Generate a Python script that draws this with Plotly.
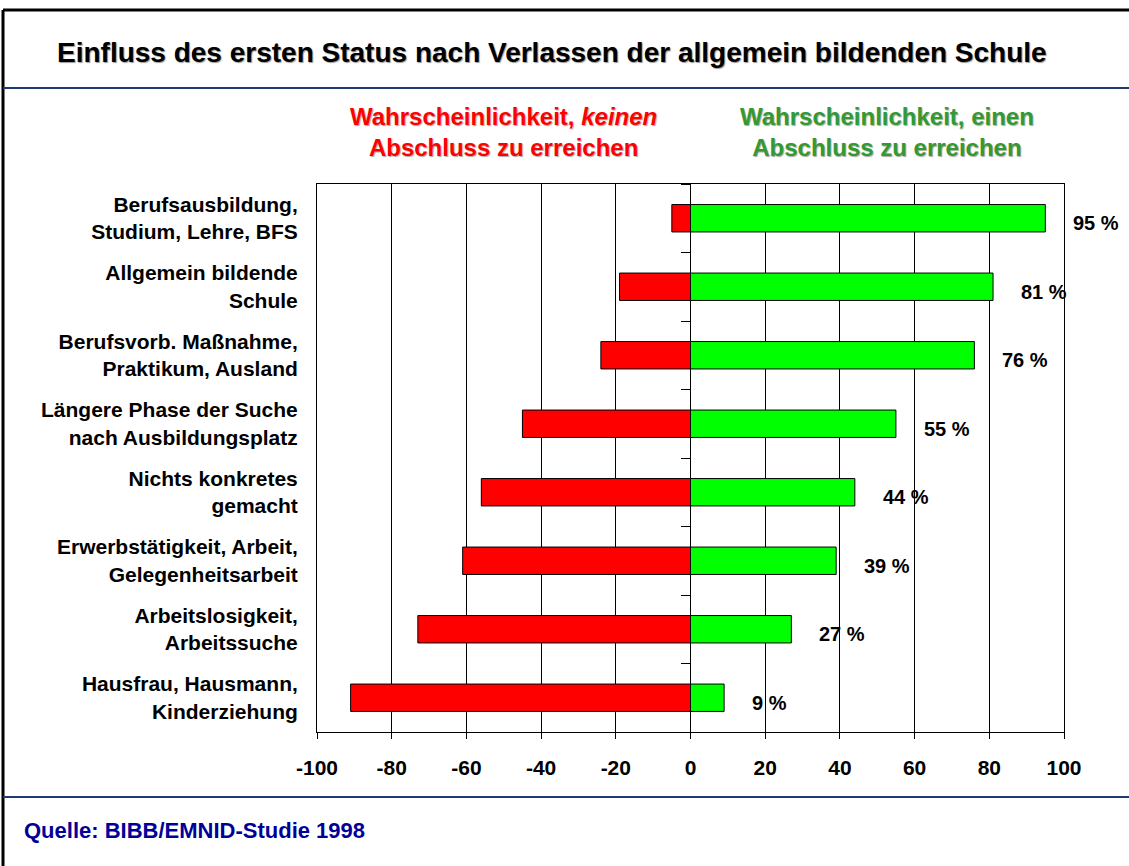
import plotly.graph_objects as go

categories = [
    "Berufsausbildung,<br>Studium, Lehre, BFS",
    "Allgemein bildende<br>Schule",
    "Berufsvorb. Maßnahme,<br>Praktikum, Ausland",
    "Längere Phase der Suche<br>nach Ausbildungsplatz",
    "Nichts konkretes<br>gemacht",
    "Erwerbstätigkeit, Arbeit,<br>Gelegenheitsarbeit",
    "Arbeitslosigkeit,<br>Arbeitssuche",
    "Hausfrau, Hausmann,<br>Kinderziehung",
]
kein_abschluss = [5, 19, 24, 45, 56, 61, 73, 91]
abschluss = [95, 81, 76, 55, 44, 39, 27, 9]
x_ticks = [-100, -80, -60, -40, -20, 0, 20, 40, 60, 80, 100]

FONT = "Liberation Sans, Arial, sans-serif"
idx = list(range(len(categories)))

PL, PR, PT, PB = 317, 1064, 184, 732
W, H = 1129, 866


def px_to_paper_x(px):
    return (px - PL) / (PR - PL)


def px_to_paper_y(py):
    return (PB - py) / (PB - PT)


fig = go.Figure()
fig.add_trace(go.Bar(
    y=idx, x=[-v for v in kein_abschluss], orientation="h",
    marker=dict(color="#FF0000", line=dict(color="black", width=1)),
    width=0.4, showlegend=False, hoverinfo="skip",
))
fig.add_trace(go.Bar(
    y=idx, x=abschluss, orientation="h",
    marker=dict(color="#00FF00", line=dict(color="black", width=1)),
    width=0.4, showlegend=False, hoverinfo="skip",
))
# invisible trace to anchor the category-axis ticks at zero
fig.add_trace(go.Scatter(
    x=[0], y=[0], yaxis="y2", mode="markers",
    marker=dict(opacity=0), showlegend=False, hoverinfo="skip",
))

annotations = []
for i, v in enumerate(abschluss):
    annotations.append(dict(
        x=v, y=i, xref="x", yref="y", text=f"{v} %", showarrow=False,
        xanchor="left", yanchor="middle", xshift=26, yshift=-5,
        font=dict(family=FONT, size=20, color="black", weight="bold"),
    ))

annotations.append(dict(
    x=-50, y=1.0, xref="x", yref="paper", yshift=52,
    text="Wahrscheinlichkeit, <i>keinen</i><br>Abschluss zu erreichen",
    showarrow=False, xanchor="center", yanchor="middle", align="center",
    font=dict(family=FONT, size=24, color="#FF0000", weight="bold",
              shadow="1px 1px 1px #aaaaaa"),
))
annotations.append(dict(
    x=52.5, y=1.0, xref="x", yref="paper", yshift=52,
    text="Wahrscheinlichkeit, einen<br>Abschluss zu erreichen",
    showarrow=False, xanchor="center", yanchor="middle", align="center",
    font=dict(family=FONT, size=24, color="#339933", weight="bold",
              shadow="1px 1px 1px #aaaaaa"),
))
annotations.append(dict(
    x=px_to_paper_x(22), y=px_to_paper_y(830), xref="paper", yref="paper",
    text="Quelle: BIBB/EMNID-Studie 1998", showarrow=False,
    xanchor="left", yanchor="middle",
    font=dict(family=FONT, size=22, color="#000099", weight="bold"),
))

shapes = [
    # outer frame
    dict(type="line", xref="paper", yref="paper",
         x0=px_to_paper_x(3), x1=px_to_paper_x(1135), y0=px_to_paper_y(10), y1=px_to_paper_y(10),
         line=dict(color="black", width=3)),
    dict(type="line", xref="paper", yref="paper",
         x0=px_to_paper_x(3), x1=px_to_paper_x(3), y0=px_to_paper_y(10), y1=px_to_paper_y(870),
         line=dict(color="black", width=3)),
    # separators
    dict(type="line", xref="paper", yref="paper",
         x0=px_to_paper_x(3), x1=px_to_paper_x(1135), y0=px_to_paper_y(88), y1=px_to_paper_y(88),
         line=dict(color="#1F3A6E", width=2)),
    dict(type="line", xref="paper", yref="paper",
         x0=px_to_paper_x(3), x1=px_to_paper_x(1135), y0=px_to_paper_y(797), y1=px_to_paper_y(797),
         line=dict(color="#1F3A6E", width=2)),
]

fig.update_layout(
    width=W, height=H,
    margin=dict(l=PL, r=W - PR, t=PT, b=H - PB),
    paper_bgcolor="white", plot_bgcolor="white",
    barmode="overlay",
    title=dict(
        text="Einfluss des ersten Status nach Verlassen der allgemein bildenden Schule",
        x=57 / W, xanchor="left", xref="container",
        y=1 - 52 / H, yanchor="middle", yref="container",
        font=dict(family=FONT, size=28, color="black", weight="bold",
                  shadow="1px 1px 1px #999999"),
    ),
    xaxis=dict(
        range=[-100, 100], tickvals=x_ticks, ticktext=[str(t) for t in x_ticks],
        showgrid=True, gridcolor="black", gridwidth=1,
        zeroline=True, zerolinecolor="black", zerolinewidth=1,
        showline=True, linecolor="black", linewidth=1, mirror=True,
        ticks="outside", ticklen=6, tickcolor="black",
        ticklabelstandoff=11,
        tickfont=dict(family=FONT, size=21, color="black", weight="bold"),
        fixedrange=True,
    ),
    yaxis=dict(
        range=[7.5, -0.5], tickvals=idx, ticktext=categories,
        showgrid=False, zeroline=False,
        showline=True, linecolor="black", linewidth=1, mirror=True,
        ticks="", ticklabelstandoff=14,
        tickfont=dict(family=FONT, size=21, color="black", weight="bold"),
        fixedrange=True,
    ),
    yaxis2=dict(
        overlaying="y", anchor="free", position=0.5, side="left",
        range=[7.5, -0.5], tickvals=[k - 0.5 for k in range(len(categories) + 1)],
        showticklabels=False, ticks="outside", ticklen=10, tickcolor="black",
        showgrid=False, zeroline=False, showline=False, fixedrange=True,
    ),
    annotations=annotations,
    shapes=shapes,
)

fig.write_html(
    "out.html",
    config={"displayModeBar": False},
    post_script="document.body.style.margin='0';document.body.style.overflow='hidden';",
)
